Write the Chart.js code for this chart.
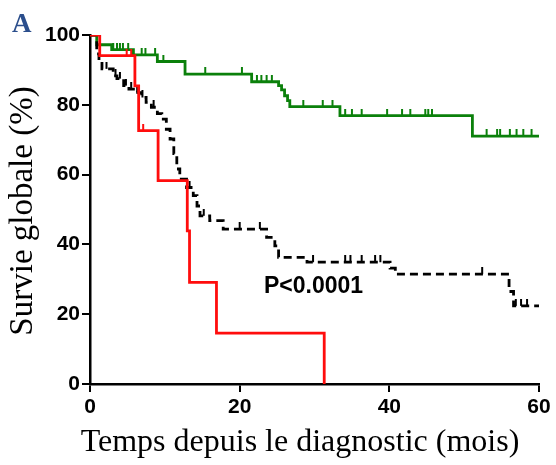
<!DOCTYPE html>
<html>
<head>
<meta charset="utf-8">
<script src="https://cdn.jsdelivr.net/npm/chart.js@4.4.1/dist/chart.umd.min.js"></script>
<style>
  html, body { margin: 0; padding: 0; background: #fff; }
</style>
</head>
<body>
<canvas id="km" width="556" height="465"></canvas>
<script>
(function () {
  'use strict';

  /* ── Data ────────────────────────────────────────────────────────── */

  var X_TICKS = [0, 20, 40, 60];
  var Y_TICKS = [0, 20, 40, 60, 80, 100];

  var X_TITLE = 'Temps depuis le diagnostic (mois)';
  var Y_TITLE = 'Survie globale (%)';
  var P_LABEL = 'P<0.0001';
  var PANEL = 'A';

  // green group
  var greenTimes = [0, 0.9, 2.9, 5.8, 9.0, 12.7, 21.6, 25.2, 25.6, 26.0, 26.4, 26.7, 33.4, 51.1, 60];
  var greenSurv = [100, 97.2, 95.8, 94.3, 92.4, 88.8, 86.6, 85.5, 84.3, 82.6, 81.2, 79.5, 76.9, 71.0, 71.0];
  var greenCensor = [3.1, 3.6, 4.0, 4.4, 5.1, 6.9, 7.4, 8.7, 9.8, 15.4, 20.3, 22.3, 22.9, 23.6, 24.3,
    28.5, 31.1, 32.4, 34.1, 35.0, 36.3, 39.7, 41.7, 42.8, 44.8, 45.2, 45.7,
    53.0, 54.4, 54.8, 56.1, 57.0, 57.9, 59.0];

  // black dashed group
  var blackTimes = [0, 0.9, 1.2, 1.6, 3.1, 3.6, 4.5, 5.2, 5.8, 6.9, 7.5, 8.2, 9.0, 9.6, 10.2, 10.7,
    11.2, 11.6, 12.0, 12.9, 13.8, 14.3, 14.7, 16.0, 17.8, 23.6, 24.7, 25.2, 29.0, 40.1, 40.8,
    56.0, 56.6, 60];
  var blackSurv = [100, 94.6, 92.6, 90.3, 88.3, 87.5, 85.5, 84.5, 83.5, 82.1, 80.7, 79.3, 77.5, 75.9, 73.0, 70.2,
    66.0, 61.6, 58.7, 56.3, 54.0, 51.0, 48.2, 46.8, 44.4, 42.0, 39.6, 36.3, 34.9, 33.2, 31.5,
    26.5, 22.4, 22.4];
  var blackCensor = [2.2, 3.4, 4.0, 4.8, 5.5, 6.3, 7.0, 8.5, 13.3, 15.2, 20.0, 22.7,
    29.8, 34.1, 34.8, 36.3, 38.1, 38.8, 52.4, 56.9, 57.6, 58.4];

  // red group
  var redTimes = [0, 1.3, 6.0, 6.5, 9.1, 13.0, 13.3, 16.9, 31.3];
  var redSurv = [100, 94.1, 85.4, 72.6, 58.3, 43.9, 29.1, 14.6, 0];
  var redCensor = [4.9, 5.5, 7.1];

  var GREEN = '#0B800B';
  var BLACK = '#000000';
  var RED = '#FF0D0D';

  /* ── Helpers ─────────────────────────────────────────────────────── */

  function toPoints(times, surv) {
    return times.map(function (t, i) { return { x: t, y: surv[i] }; });
  }

  // survival value of a step curve at time t
  function survAt(times, surv, t) {
    var v = surv[0];
    for (var i = 0; i < times.length; i++) {
      if (times[i] <= t) v = surv[i];
    }
    return v;
  }

  function censorPoints(censor, times, surv) {
    return censor.map(function (t) { return { x: t, y: survAt(times, surv, t) }; });
  }

  // censor mark: small tick pointing up from the curve (image is centred on the point)
  function tickImage(color) {
    var c = document.createElement('canvas');
    c.width = 4;
    c.height = 14;
    var g = c.getContext('2d');
    g.fillStyle = color;
    g.fillRect(1, 0, 2, 7);
    return c;
  }

  function curve(times, surv, color, dash) {
    return {
      data: toPoints(times, surv),
      showLine: true,
      stepped: true,
      borderColor: color,
      borderWidth: 2.8,
      borderDash: dash || [],
      pointRadius: 0,
      fill: false
    };
  }

  function ticks(censor, times, surv, color) {
    return {
      data: censorPoints(censor, times, surv),
      showLine: false,
      pointStyle: tickImage(color),
      pointRadius: 4,
      borderColor: color,
      backgroundColor: color
    };
  }

  /* ── Free text: panel letter, p-value, axis titles ───────────────── */

  var textPlugin = {
    id: 'kmText',
    afterDraw: function (chart) {
      var ctx = chart.ctx;
      ctx.save();
      ctx.textBaseline = 'alphabetic';

      ctx.fillStyle = '#2B4E8C';
      ctx.font = 'bold 27px "Liberation Serif"';
      ctx.textAlign = 'left';
      ctx.fillText(PANEL, 12, 32);

      ctx.fillStyle = '#000';
      ctx.font = 'bold 23px "Liberation Sans"';
      ctx.fillText(P_LABEL, 264, 293);

      ctx.font = '32px "Liberation Serif"';
      ctx.textAlign = 'center';
      ctx.fillText(X_TITLE, 300, 451);

      ctx.font = '33px "Liberation Serif"';
      ctx.translate(32, 211);
      ctx.rotate(-Math.PI / 2);
      ctx.fillText(Y_TITLE, 0, 0);
      ctx.restore();
    }
  };

  /* ── Chart ───────────────────────────────────────────────────────── */

  var tickFont = { family: '"Liberation Sans", Arial', size: 21, weight: 'bold' };

  new Chart(document.getElementById('km'), {
    type: 'scatter',
    data: {
      datasets: [
        curve(redTimes, redSurv, RED),
        ticks(redCensor, redTimes, redSurv, RED),
        curve(blackTimes, blackSurv, BLACK, [8, 5]),
        ticks(blackCensor, blackTimes, blackSurv, BLACK),
        curve(greenTimes, greenSurv, GREEN),
        ticks(greenCensor, greenTimes, greenSurv, GREEN)
      ]
    },
    options: {
      responsive: false,
      animation: false,
      layout: { padding: { left: 0, top: 35, right: 17, bottom: 0 } },
      plugins: { legend: { display: false }, tooltip: { enabled: false } },
      scales: {
        x: {
          type: 'linear',
          min: 0,
          max: 60,
          afterBuildTicks: function (s) { s.ticks = X_TICKS.map(function (v) { return { value: v }; }); },
          afterFit: function (s) { s.height = 81; },
          ticks: { color: '#000', font: tickFont, padding: 3, maxRotation: 0 },
          grid: { drawOnChartArea: false, drawTicks: true, tickLength: 8, color: '#000', lineWidth: 2 },
          border: { color: '#000', width: 2.5 }
        },
        y: {
          type: 'linear',
          min: 0,
          max: 100,
          afterBuildTicks: function (s) { s.ticks = Y_TICKS.map(function (v) { return { value: v }; }); },
          afterFit: function (s) { s.width = 90; },
          ticks: { color: '#000', font: tickFont, padding: 2 },
          grid: { drawOnChartArea: false, drawTicks: true, tickLength: 8, color: '#000', lineWidth: 2 },
          border: { color: '#000', width: 2.5 }
        }
      }
    },
    plugins: [textPlugin]
  });
})();
</script>
</body>
</html>
